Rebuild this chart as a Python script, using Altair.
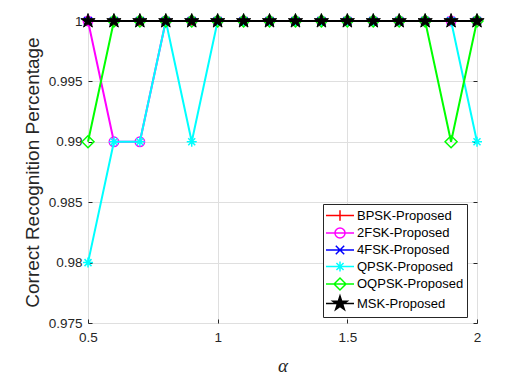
import altair as alt
import pandas as pd
import numpy as np

# ---- data ----
alpha = [0.5, 0.6, 0.7, 0.8, 0.9, 1.0, 1.1, 1.2, 1.3, 1.4, 1.5, 1.6, 1.7, 1.8, 1.9, 2.0]
bpsk = [1, 1, 1, 1, 1, 1, 1, 1, 1, 1, 1, 1, 1, 1, 1, 1]
fsk2 = [1, 0.99, 0.99, 1, 1, 1, 1, 1, 1, 1, 1, 1, 1, 1, 1, 1]
fsk4 = [1, 1, 1, 1, 1, 1, 1, 1, 1, 1, 1, 1, 1, 1, 1, 1]
qpsk = [0.98, 0.99, 0.99, 1, 0.99, 1, 1, 1, 1, 1, 1, 1, 1, 1, 1, 0.99]
oqpsk = [0.99, 1, 1, 1, 1, 1, 1, 1, 1, 1, 1, 1, 1, 1, 0.99, 1]
msk = [1, 1, 1, 1, 1, 1, 1, 1, 1, 1, 1, 1, 1, 1, 1, 1]

series = ["BPSK-Proposed", "2FSK-Proposed", "4FSK-Proposed",
          "QPSK-Proposed", "OQPSK-Proposed", "MSK-Proposed"]
values = [bpsk, fsk2, fsk4, qpsk, oqpsk, msk]
colors = ["#ff0000", "#ff00ff", "#0000ff", "#00ffff", "#00ff00", "#000000"]
x_ticks = [0.5, 1, 1.5, 2]
y_ticks = [0.975, 0.98, 0.985, 0.99, 0.995, 1]

rows = []
for s, vals in zip(series, values):
    for a, v in zip(alpha, vals):
        rows.append({"alpha": a, "val": v, "series": s})
df = pd.DataFrame(rows)


# ---- marker shapes ----
def star(r_out, r_in):
    pts = []
    for k in range(10):
        ang = -np.pi / 2 + k * np.pi / 5
        r = r_out if k % 2 == 0 else r_in
        pts.append((r * np.cos(ang), r * np.sin(ang)))
    return "M" + "L".join(f"{x:.3f},{y:.3f}" for x, y in pts) + "Z"


plus = "M-1,0L1,0M0,-1L0,1"
cross = "M-1,-1L1,1M-1,1L1,-1"
aster = "M-1,0L1,0M0,-1L0,1M-0.7,-0.7L0.7,0.7M-0.7,0.7L0.7,-0.7"
diam = "M-1,0L0,-1L1,0L0,1Z"
marker_shapes = [plus, "circle", cross, aster, diam, star(1, 0.382)]
marker_sizes = [100, 88, 64, 100, 144, 225]
marker_filled = [False, False, False, False, False, True]

# legend symbols: line segment + marker (unit = 7px for size 196)
seg = "M-2,0L2,0"
legend_paths = [
    seg + "M0,-0.75L0,0.75",
    seg + "M-0.72,0A0.72,0.72,0,1,1,0.72,0A0.72,0.72,0,1,1,-0.72,0",
    seg + "M-0.6,-0.6L0.6,0.6M-0.6,0.6L0.6,-0.6",
    seg + "M0,-0.72L0,0.72M-0.51,-0.51L0.51,0.51M-0.51,0.51L0.51,-0.51",
    seg + "M-0.85,0L0,-0.85L0.85,0L0,0.85Z",
    seg + star(1.07, 0.41),
]
legend_fills = ["transparent"] * 5 + ["#000000"]

xscale = alt.Scale(domain=[0.5, 2], nice=False, zero=False)
yscale = alt.Scale(domain=[0.975, 1.0], nice=False, zero=False)

axis_common = dict(
    tickSize=4, offset=-4, domain=False, tickColor="#262626", tickWidth=1,
    labelFlush=False, labelFont="Liberation Sans", labelFontSize=13.5,
    labelColor="#262626", gridColor="#dfdfdf", gridWidth=1,
)
tick_only = {k: v for k, v in axis_common.items()
             if not k.startswith("label") and not k.startswith("grid")}

x_main = alt.X("alpha:Q", scale=xscale, axis=alt.Axis(
    orient="bottom", values=x_ticks, format="~g", grid=True,
    labelPadding=7, title="α", titleFont="Liberation Serif",
    titleFontStyle="italic", titleFontWeight="normal", titleFontSize=19,
    titleColor="#262626", titlePadding=13, **axis_common))
y_main = alt.Y("val:Q", scale=yscale, axis=alt.Axis(
    orient="left", values=y_ticks, format="~g", grid=True,
    labelPadding=6, title="Correct Recognition Percentage",
    titleFont="Liberation Sans", titleFontWeight="normal", titleFontSize=19,
    titleColor="#262626", titlePadding=6, **axis_common))

x_none = alt.X("alpha:Q", scale=xscale, axis=None)
y_none = alt.Y("val:Q", scale=yscale, axis=None)

base = alt.Chart(df)
layers = []
for i, s in enumerate(series):
    d = base.transform_filter(alt.datum.series == s)
    line = d.mark_line(strokeWidth=2, color=colors[i]).encode(
        x=x_main if i == 0 else x_none,
        y=y_main if i == 0 else y_none,
    )
    pkw = dict(shape=marker_shapes[i], size=marker_sizes[i], opacity=1,
               strokeWidth=1.5)
    if marker_filled[i]:
        pkw.update(filled=True, fill=colors[i], stroke=colors[i], strokeWidth=1)
    else:
        pkw.update(filled=False, stroke=colors[i], fill="transparent")
    pts = d.mark_point(**pkw).encode(x=x_none, y=y_none)
    layers += [line, pts]

leg = alt.Legend(
    title=None, orient="none", legendX=235, legendY=183,
    strokeColor="#262626", fillColor="#ffffff", padding=3.5,
    labelFont="Liberation Sans", labelFontSize=13, labelColor="#000000",
    symbolSize=196, symbolStrokeWidth=1.5, symbolOffset=5.5, labelOffset=9,
    rowPadding=-0.5, symbolOpacity=1,
)

legend_layer = base.mark_point(opacity=0, filled=False, strokeWidth=1.5).encode(
    x=alt.X("alpha:Q", scale=xscale, axis=alt.Axis(
        orient="top", values=x_ticks, labels=False, grid=False, title=None,
        **tick_only)),
    y=alt.Y("val:Q", scale=yscale, axis=alt.Axis(
        orient="right", values=y_ticks, labels=False, grid=False, title=None,
        **tick_only)),
    color=alt.Color("series:N", scale=alt.Scale(domain=series, range=colors), legend=leg),
    shape=alt.Shape("series:N", scale=alt.Scale(domain=series, range=legend_paths), legend=leg),
    fill=alt.Fill("series:N", scale=alt.Scale(domain=series, range=legend_fills), legend=leg),
)

chart = alt.layer(*layers, legend_layer).resolve_axis(
    x="independent", y="independent"
).properties(
    width=389, height=302,
    autosize=alt.AutoSizeParams(type="none"),
    padding={"left": 80, "top": 13, "right": 15, "bottom": 54},
).configure_view(
    stroke="#262626", strokeWidth=1
).configure(background="#ffffff")

chart.save("out.html", embed_options={"renderer": "svg", "actions": False})
